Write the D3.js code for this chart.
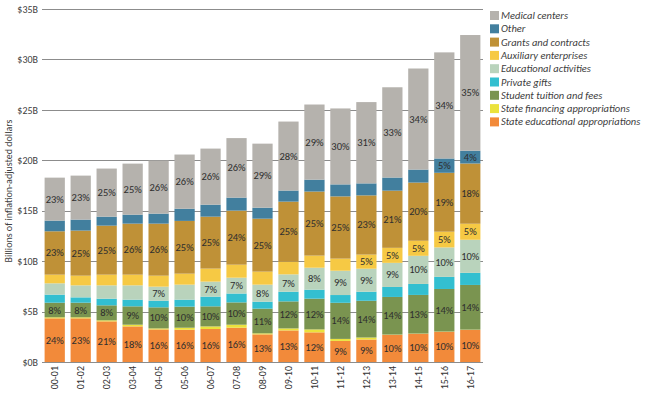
<!DOCTYPE html>
<html>
<head>
<meta charset="utf-8">
<script src="https://cdn.jsdelivr.net/npm/d3@7"></script>
<style>
	html, body { margin: 0; padding: 0; background: #fff; }
	svg { display: block; font-family: Carlito, Lato, "Open Sans", sans-serif; }
</style>
</head>
<body>
<div id="chart"></div>
<script>
// Fiscal years on the x axis
const years = ['00-01', '01-02', '02-03', '03-04', '04-05', '05-06', '06-07', '07-08', '08-09',
	'09-10', '10-11', '11-12', '12-13', '13-14', '14-15', '15-16', '16-17'];

// Revenue by source, billions of inflation-adjusted dollars (bottom of stack first)
const stateEducational = [4.33, 4.33, 4.03, 3.53, 3.23, 3.2, 3.27, 3.4, 2.74, 3.13, 2.94, 2.09, 2.23, 2.69, 2.79, 2.99, 3.18];
const stateFinancing = [0.1, 0.1, 0.1, 0.17, 0.1, 0.2, 0.26, 0.3, 0.1, 0.2, 0.29, 0.2, 0.2, 0.03, 0.03, 0.03, 0.03];
const tuition = [1.45, 1.45, 1.49, 1.82, 2.09, 2.09, 1.99, 2.21, 2.45, 2.68, 3.05, 3.58, 3.64, 3.73, 3.83, 4.22, 4.43];
const privateGifts = [0.8, 0.53, 0.66, 0.66, 0.66, 0.69, 0.96, 0.88, 0.69, 0.96, 0.89, 0.77, 0.9, 0.99, 1.09, 1.2, 1.2];
const educational = [1.12, 1.19, 1.32, 1.42, 1.39, 1.49, 1.49, 1.57, 1.69, 1.72, 2.18, 2.41, 2.28, 2.39, 2.79, 2.92, 3.28];
const auxiliary = [0.86, 0.96, 1.06, 1.06, 1.09, 1.09, 1.29, 1.29, 1.29, 1.26, 1.2, 1.2, 1.4, 1.49, 1.49, 1.56, 1.59];
const grants = [4.3, 4.47, 4.86, 5.06, 5.16, 5.23, 5.15, 5.36, 5.25, 5.95, 6.35, 6.17, 5.87, 5.67, 5.77, 5.84, 5.97];
const other = [1.06, 1.09, 0.89, 0.89, 0.99, 1.21, 1.19, 1.29, 1.09, 1.1, 1.18, 1.19, 1.19, 1.3, 1.29, 1.42, 1.27];
const medical = [4.26, 4.36, 4.77, 5.06, 5.26, 5.37, 5.56, 5.9, 6.35, 6.84, 7.45, 7.53, 8.06, 8.95, 10.02, 10.52, 11.47];

// Share labels printed on the segments (null = no label)
const _ = null;
const stateEducationalPct = [24, 23, 21, 18, 16, 16, 16, 16, 13, 13, 12, 9, 9, 10, 10, 10, 10];
const tuitionPct = [8, 8, 8, 9, 10, 10, 10, 10, 11, 12, 12, 14, 14, 14, 13, 14, 14];
const educationalPct = [_, _, _, _, 7, _, 7, 7, 8, 7, 8, 9, 9, 9, 10, 10, 10];
const auxiliaryPct = [_, _, _, _, _, _, _, _, _, _, _, _, 5, 5, 5, 5, 5];
const grantsPct = [23, 25, 25, 26, 26, 25, 25, 24, 25, 25, 25, 25, 23, 21, 20, 19, 18];
const otherPct = [_, _, _, _, _, _, _, _, _, _, _, _, _, _, _, 5, 4];
const medicalPct = [23, 23, 25, 25, 26, 26, 26, 26, 29, 28, 29, 30, 31, 33, 34, 34, 35];

const yTicks = [0, 5, 10, 15, 20, 25, 30, 35];

const series = [
	{ key: 'stateEd', name: 'State educational appropriations', color: '#f28a3a', values: stateEducational, pct: stateEducationalPct },
	{ key: 'stateFin', name: 'State financing appropriations', color: '#ebe23c', values: stateFinancing, pct: null },
	{ key: 'tuition', name: 'Student tuition and fees', color: '#7a9450', values: tuition, pct: tuitionPct },
	{ key: 'gifts', name: 'Private gifts', color: '#33bfd0', values: privateGifts, pct: null },
	{ key: 'edu', name: 'Educational activities', color: '#b9d3bc', values: educational, pct: educationalPct },
	{ key: 'aux', name: 'Auxiliary enterprises', color: '#f6c944', values: auxiliary, pct: auxiliaryPct },
	{ key: 'grants', name: 'Grants and contracts', color: '#bf9137', values: grants, pct: grantsPct },
	{ key: 'other', name: 'Other', color: '#427f9e', values: other, pct: otherPct },
	{ key: 'medical', name: 'Medical centers', color: '#b5b2ad', values: medical, pct: medicalPct },
];

const width = 653, height = 395;
const plot = { left: 42, right: 483, top: 9, bottom: 362 };

const rows = years.map((year, i) => {
	const row = { year };
	series.forEach(s => { row[s.key] = s.values[i]; });
	return row;
});

const stacked = d3.stack().keys(series.map(s => s.key))(rows);

const x = d3.scaleBand()
	.domain(years)
	.range([plot.left, plot.right])
	.paddingInner(0.22)
	.paddingOuter(0.1);

const y = d3.scaleLinear()
	.domain([0, 35])
	.range([plot.bottom, plot.top]);

const svg = d3.select('#chart')
	.append('svg')
	.attr('width', width)
	.attr('height', height);

// Gridlines
svg.append('g')
	.selectAll('line')
	.data(yTicks)
	.join('line')
	.attr('x1', plot.left)
	.attr('x2', plot.right)
	.attr('y1', d => Math.round(y(d)) + 0.5)
	.attr('y2', d => Math.round(y(d)) + 0.5)
	.attr('stroke', '#8c8c8c')
	.attr('stroke-width', 1);

// Y axis labels
const yAxis = svg.append('g')
	.attr('transform', `translate(${plot.left},0)`)
	.call(d3.axisLeft(y).tickValues(yTicks).tickSize(0).tickPadding(4).tickFormat(d => `$${d}B`));
yAxis.select('.domain').remove();
yAxis.selectAll('text')
	.attr('font-family', 'Carlito, Lato, sans-serif')
	.attr('font-size', 10)
	.attr('fill', '#404040');

// Stacked bars
const layers = svg.append('g')
	.selectAll('g')
	.data(stacked)
	.join('g')
	.attr('fill', (d, i) => series[i].color);

layers.selectAll('rect')
	.data(d => d)
	.join('rect')
	.attr('x', d => x(d.data.year))
	.attr('width', x.bandwidth())
	.attr('y', d => y(d[1]))
	.attr('height', d => y(d[0]) - y(d[1]));

// Percentage labels
const labelData = [];
stacked.forEach((layer, si) => {
	const pct = series[si].pct;
	if (!pct) return;
	layer.forEach((d, i) => {
		if (pct[i] == null) return;
		labelData.push({ year: d.data.year, mid: (d[0] + d[1]) / 2, text: `${pct[i]}%` });
	});
});

svg.append('g')
	.selectAll('text')
	.data(labelData)
	.join('text')
	.attr('x', d => x(d.year) + x.bandwidth() / 2)
	.attr('y', d => y(d.mid))
	.attr('text-anchor', 'middle')
	.attr('dominant-baseline', 'central')
	.attr('font-size', 10.5)
	.attr('fill', '#2e2e2e')
	.text(d => d.text);

// X axis labels (rotated)
svg.append('g')
	.selectAll('text')
	.data(years)
	.join('text')
	.attr('transform', d => `translate(${x(d) + x.bandwidth() / 2},366) rotate(-90)`)
	.attr('text-anchor', 'end')
	.attr('dominant-baseline', 'central')
	.attr('font-size', 10)
	.attr('fill', '#333')
	.text(d => d);

// Y axis title
svg.append('text')
	.attr('transform', 'translate(8,191) rotate(-90)')
	.attr('text-anchor', 'middle')
	.attr('dominant-baseline', 'central')
	.attr('font-size', 10)
	.attr('fill', '#404040')
	.text('Billions of inflation-adjusted dollars');

// Legend, top series first
const legend = svg.append('g')
	.attr('transform', 'translate(490,11)')
	.selectAll('g')
	.data(series.slice().reverse())
	.join('g')
	.attr('transform', (d, i) => `translate(0,${i * 13.3})`);

legend.append('rect')
	.attr('width', 9)
	.attr('height', 9)
	.attr('fill', d => d.color);

legend.append('text')
	.attr('x', 11)
	.attr('y', 4.5)
	.attr('dominant-baseline', 'central')
	.attr('font-size', 10.5)
	.attr('font-style', 'italic')
	.attr('fill', '#404040')
	.text(d => d.name);
</script>
</body>
</html>
